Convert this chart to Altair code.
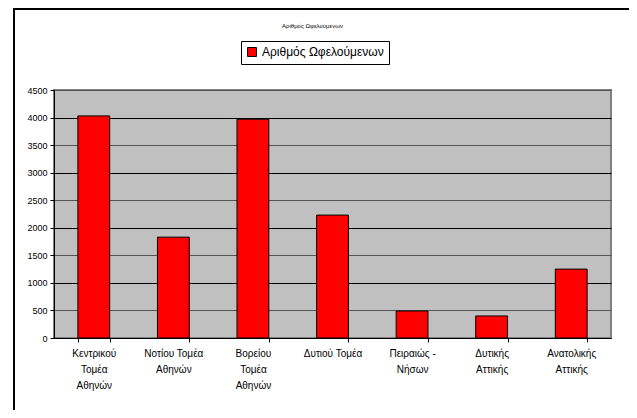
import altair as alt
import pandas as pd

categories = ["Κεντρικού|Τομέα|Αθηνών", "Νοτίου Τομέα|Αθηνών", "Βορείου|Τομέα|Αθηνών",
              "Δυτιού Τομέα", "Πειραιώς -|Νήσων", "Δυτικής|Αττικής", "Ανατολικής|Αττικής"]
values = [4030, 1830, 3970, 2230, 490, 400, 1250]
series = "Αριθμός Ωφελούμενων"
y_ticks = [0, 500, 1000, 1500, 2000, 2500, 3000, 3500, 4000, 4500]

df = pd.DataFrame({"cat": categories, "val": values, "series": [series] * len(values)})

FONT = "Liberation Sans"

bars = alt.Chart(df).mark_bar(stroke="black", strokeWidth=1).encode(
    x=alt.X("cat:N", sort=categories, title=None,
            scale=alt.Scale(paddingInner=0.6, paddingOuter=0.3),
            axis=alt.Axis(labelAngle=0, labelExpr="split(datum.label, '|')",
                          labelFontSize=10, labelFont=FONT, labelColor="black",
                          labelPadding=6, labelLineHeight=16,
                          tickBand="extent", tickColor="black", tickSize=4,
                          domainColor="black", grid=False)),
    y=alt.Y("val:Q", title=None,
            scale=alt.Scale(domain=[0, 4500], nice=False),
            axis=alt.Axis(values=y_ticks, format="d", labelFontSize=9, labelFont=FONT,
                          labelColor="black", tickColor="black", tickSize=4,
                          domainColor="black", labelPadding=3,
                          gridColor={"condition": {"test": "datum.value % 1000 == 0", "value": "black"},
                                     "value": "#555555"},
                          gridWidth=1.2)),
    color=alt.Color("series:N", scale=alt.Scale(range=["#ff0000"]),
                    legend=alt.Legend(title=None, orient="none", legendX=187, legendY=-49,
                                      strokeColor="black", fillColor="white", padding=5,
                                      symbolType="square", symbolSize=80,
                                      symbolStrokeColor="black", symbolStrokeWidth=1,
                                      labelFontSize=12, labelFont=FONT, labelColor="black",
                                      labelLimit=300))
)

frame = pd.DataFrame({"a": [0]})
left_edge = alt.Chart(frame).mark_rule(stroke="black", strokeWidth=2).encode(
    x=alt.value(-40), y=alt.value(-81), y2=alt.value(330))
top_edge = alt.Chart(frame).mark_rule(stroke="black", strokeWidth=2).encode(
    x=alt.value(-41), x2=alt.value(575), y=alt.value(-81))

chart = alt.layer(bars, left_edge, top_edge).properties(
    width=557, height=248,
    autosize=alt.AutoSizeParams(type="none"),
    padding={"left": 46, "top": 82, "right": 18, "bottom": 72},
    title=alt.TitleParams(series, fontSize=6, font=FONT, fontWeight="normal",
                          color="black", anchor="middle", offset=-21, dx=-20),
).configure(background="white").configure_view(
    fill="#c0c0c0", stroke="#808080", strokeWidth=2
)

chart.save("out.html", embed_options={"renderer": "svg", "actions": False})
